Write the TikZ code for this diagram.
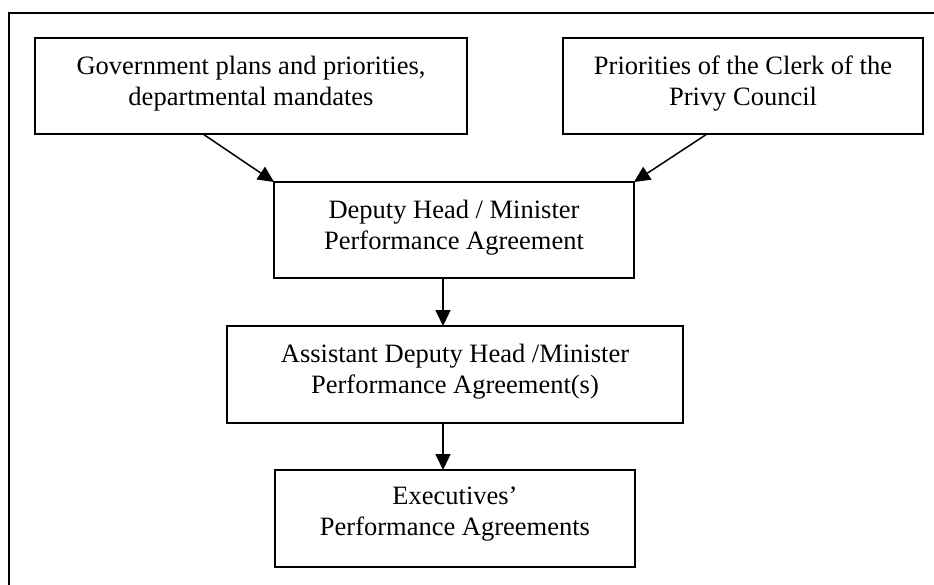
\documentclass[tikz,border=0pt]{standalone}
\usepackage{fontspec}
\setmainfont{Liberation Serif}
\usetikzlibrary{arrows.meta}
\begin{document}
\begin{tikzpicture}[x=1pt,y=-1pt,
  boxst/.style={draw, line width=1.6pt},
  txt/.style={anchor=north, inner sep=0pt, align=center, font=\fontsize{26.5}{30.5}\selectfont},
  arr/.style={line width=1.5pt, -{Triangle[length=16pt,width=15pt]}}]
\useasboundingbox (0,0) rectangle (934,585);
\draw[line width=1.8pt] (934,13) -- (9,13) -- (9,585);
% boxes
\path[boxst] (35,38) rectangle (467,134);
\coordinate (b1n) at (251,38);
\path[boxst] (563,38) rectangle (923,134);
\coordinate (b2n) at (743,38);
\path[boxst] (274,182) coordinate (b3nw) rectangle (634,278);
\coordinate (b3ne) at (634,182);
\coordinate (b3n) at (454,182);
\path[boxst] (227,326) rectangle (683,423);
\coordinate (b4n) at (455,326);
\path[boxst] (275,470) rectangle (635,567);
\coordinate (b5n) at (455,470);
% texts
\node[txt] (t1) at ([yshift=-18]b1n) {Government plans and priorities,\\departmental mandates};
\node[txt] (t2) at ([yshift=-18]b2n) {Priorities of the Clerk of the\\Privy Council};
\node[txt] (t3) at ([yshift=-18]b3n) {Deputy Head / Minister\\Performance Agreement};
\node[txt] (t4) at ([yshift=-18]b4n) {Assistant Deputy Head /Minister\\Performance Agreement(s)};
\node[txt] (t5) at ([yshift=-17]b5n) {Executives’\\Performance Agreements};
% connectors
\coordinate (s1) at (203,134);
\coordinate (s2) at (707,134);
\coordinate (s3) at (443,278);
\coordinate (e3) at (443,326);
\coordinate (s4) at (443,423);
\coordinate (e4) at (443,470);
\draw[arr] (s1) -- (b3nw);
\draw[arr] (s2) -- (b3ne);
\draw[arr] (s3) -- (e3);
\draw[arr] (s4) -- (e4);
\end{tikzpicture}
\end{document}
